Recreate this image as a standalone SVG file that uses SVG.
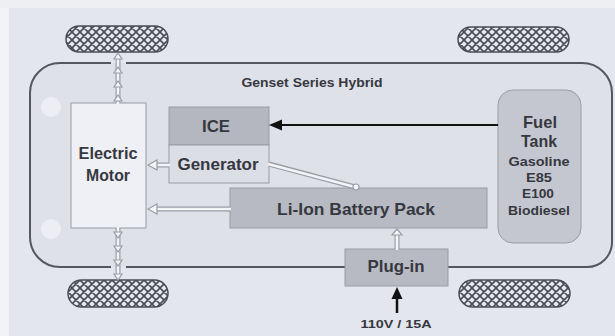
<svg xmlns="http://www.w3.org/2000/svg" width="615" height="336" viewBox="0 0 615 336">
<defs>
<pattern id="hatch" width="8" height="8" patternUnits="userSpaceOnUse">
<rect width="8" height="8" fill="#e8e9ef"/>
<path d="M-2,2 L2,-2 M0,8 L8,0 M6,10 L10,6 M-2,6 L2,10 M0,0 L8,8 M6,-2 L10,2" stroke="#4a4c54" stroke-width="1.6"/>
</pattern>
<style>
.t{font-family:"Liberation Sans",Arial,sans-serif;font-weight:bold;fill:#363840;text-anchor:middle}
.box{stroke:#9a9ca5;stroke-width:1}
.tire{fill:url(#hatch);stroke:#4a4c54;stroke-width:1.5}
.hol{fill:none;stroke:#9a9ca6;stroke-width:5}
.holi{fill:none;stroke:#f4f5f8;stroke-width:2.6}
.hhead{fill:#f4f5f8;stroke:#9a9ca6;stroke-width:1.2}
</style>
</defs>
<rect width="615" height="336" fill="#e4e6ed"/>
<rect x="0" y="0" width="9" height="336" fill="#f2f3f6"/>
<rect x="0" y="0" width="615" height="8" fill="#eeeff3"/>
<g id="tires">
<rect class="tire" x="66" y="26" width="102" height="26" rx="13"/>
<rect class="tire" x="458" y="27" width="111" height="25" rx="12.5"/>
<rect class="tire" x="68" y="280" width="100" height="27" rx="13.5"/>
<rect class="tire" x="459" y="280" width="111" height="27" rx="13.5"/>
</g>
<g id="body">
<rect x="30" y="63" width="582" height="204" rx="30" fill="#dfe1e9"/>
<path d="M111,63 H60 A30,30 0 0 0 30,93 V237 A30,30 0 0 0 60,267 H111 M126,267 H587 A25,25 0 0 0 612,242 V93 A30,30 0 0 0 582,63 H126" fill="none" stroke="#55575f" stroke-width="2"/>
<circle cx="51" cy="107" r="10" fill="#eceef3"/>
<circle cx="51" cy="229" r="10" fill="#eceef3"/>
<text class="t" x="312" y="87" font-size="13.5" textLength="141" lengthAdjust="spacingAndGlyphs">Genset Series Hybrid</text>
</g>
<g id="motor">
<rect class="box" x="71" y="103" width="75" height="125" fill="#eef0f6"/>
<text class="t" x="108" y="159" font-size="16.5" textLength="59" lengthAdjust="spacingAndGlyphs">Electric</text>
<text class="t" x="108" y="181" font-size="16.5" textLength="44" lengthAdjust="spacingAndGlyphs">Motor</text>
</g>
<g id="ice">
<rect class="box" x="169" y="107" width="100" height="38" fill="#b5b7c0"/>
<text class="t" x="216" y="132" font-size="17" textLength="28" lengthAdjust="spacingAndGlyphs">ICE</text>
</g>
<g id="generator">
<rect class="box" x="169" y="145" width="100" height="38" fill="#dcdee6"/>
<text class="t" x="218" y="170" font-size="16.5" textLength="81" lengthAdjust="spacingAndGlyphs">Generator</text>
</g>
<g id="battery">
<rect class="box" x="230" y="188" width="257" height="40" fill="#b8bac3"/>
<text class="t" x="356" y="215" font-size="16.5" textLength="158" lengthAdjust="spacingAndGlyphs">Li-Ion Battery Pack</text>
</g>
<g id="fueltank">
<rect class="box" x="498" y="90" width="83" height="153" rx="15" fill="#c5c7d0"/>
<text class="t" x="540" y="128" font-size="16.5" textLength="34" lengthAdjust="spacingAndGlyphs">Fuel</text>
<text class="t" x="539" y="147" font-size="16.5" textLength="36" lengthAdjust="spacingAndGlyphs">Tank</text>
<text class="t" x="539" y="166" font-size="13" textLength="61" lengthAdjust="spacingAndGlyphs">Gasoline</text>
<text class="t" x="539" y="182" font-size="13" textLength="26" lengthAdjust="spacingAndGlyphs">E85</text>
<text class="t" x="538" y="198" font-size="13" textLength="32" lengthAdjust="spacingAndGlyphs">E100</text>
<text class="t" x="539" y="215" font-size="13" textLength="62" lengthAdjust="spacingAndGlyphs">Biodiesel</text>
</g>
<g id="plugin">
<rect class="box" x="345" y="249" width="103" height="37" fill="#b8bac3"/>
<text class="t" x="396" y="272" font-size="16.5" textLength="57" lengthAdjust="spacingAndGlyphs">Plug-in</text>
</g>
<g id="connectors">
<line x1="498" y1="125" x2="280" y2="125" stroke="#111" stroke-width="2"/>
<polygon points="269,125 282,119.5 282,130.5" fill="#111"/>
<line x1="397" y1="313" x2="397" y2="298" stroke="#111" stroke-width="2.5"/>
<polygon points="397,287 391.5,299 402.5,299" fill="#111"/>
<path class="hol" d="M169,165 H157"/><path class="holi" d="M170,165 H157"/>
<polygon class="hhead" points="148,165 157,160 157,170"/>
<path class="hol" d="M230,209 H157"/><path class="holi" d="M231,209 H157"/>
<polygon class="hhead" points="148,209 157,204 157,214"/>
<path class="hol" d="M269,164 L355,187"/><path class="holi" d="M268,164 L355,187"/>
<circle cx="356" cy="187" r="3" fill="#f4f5f8" stroke="#9a9ca6" stroke-width="1.2"/>
<path class="hol" d="M397,249 V234"/><path class="holi" d="M397,250 V234"/>
<polygon class="hhead" points="397,229 392,235 402,235"/>
<g id="up-arrows">
<path class="hol" d="M118,103 V57"/><path class="holi" d="M118,104 V57"/>
<polygon class="hhead" points="118,53 114,59 122,59"/>
<polygon class="hhead" points="118,67 114,73 122,73"/>
<polygon class="hhead" points="118,81 114,87 122,87"/>
<polygon class="hhead" points="118,95 114,101 122,101"/>
</g>
<g id="down-arrows">
<path class="hol" d="M118,228 V275"/><path class="holi" d="M118,227 V275"/>
<polygon class="hhead" points="118,238 114,232 122,232"/>
<polygon class="hhead" points="118,252 114,246 122,246"/>
<polygon class="hhead" points="118,266 114,260 122,260"/>
<polygon class="hhead" points="118,280 114,274 122,274"/>
</g>
</g>
<text class="t" x="396" y="328" font-size="11.5" textLength="71" lengthAdjust="spacingAndGlyphs">110V / 15A</text>
</svg>
